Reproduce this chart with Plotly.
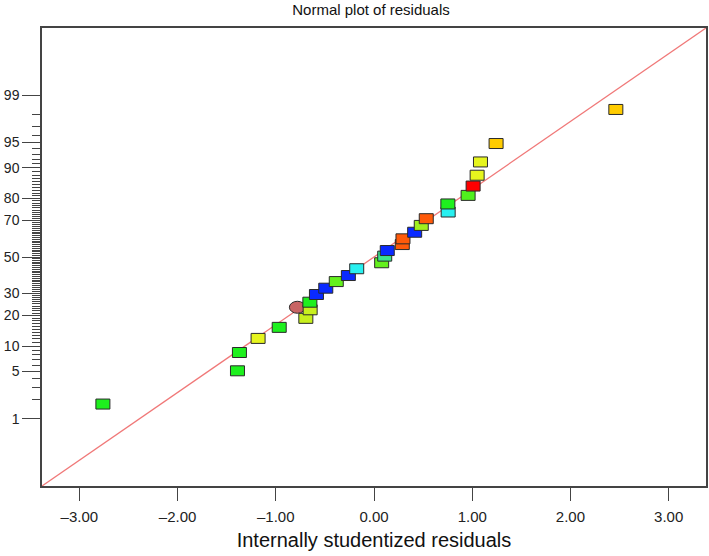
import plotly.graph_objects as go
from statistics import NormalDist

# ---- data ----
resid_x = [-2.76, -1.39, -1.37, -1.18, -0.965, -0.78, -0.694, -0.65, -0.653, -0.586,
           -0.491, -0.384, -0.261, -0.176, 0.078, 0.109, 0.135, 0.288, 0.295, 0.414,
           0.481, 0.532, 0.755, 0.752, 0.958, 1.009, 1.050, 1.084, 1.243, 2.462]
prob_pct = [1.73, 5.1, 8.5, 12.1, 15.6, 23.5, 18.9, 22.4, 25.8, 29.5,
            32.7, 36.2, 39.5, 43.3, 46.7, 50.5, 53.7, 57.1, 60.3, 63.9,
            67.5, 70.9, 74.1, 77.7, 81.2, 84.6, 88.0, 91.4, 94.85, 98.3]
point_colors = ["#1EF01E", "#1EF01E", "#1EF01E", "#E6F51E", "#1EF01E", "#C86464", "#C8F01E",
                "#C8F01E", "#1EF01E", "#0A2AFF", "#0A2AFF", "#64F01E", "#0A2AFF", "#28F0F0",
                "#64F01E", "#3CE68C", "#0A2AFF", "#FF5A0A", "#FF5A0A", "#0A2AFF", "#A0F01E",
                "#FF5A0A", "#28F0F0", "#1EF01E", "#50F01E", "#FF0000", "#E6F51E", "#E6F51E",
                "#FFCC00", "#FFCC00"]
point_shape = ["rect"] * 5 + ["circle"] + ["rect"] * 24

major_ticks_pct = [1, 5, 10, 20, 30, 50, 70, 80, 90, 95, 99]
minor_ticks_pct = [p for p in range(1, 100) if p not in major_ticks_pct]
x_ticks = [-3, -2, -1, 0, 1, 2, 3]

ref_line_x = [-3.38, 3.38]
ref_line_pct = [0.05, 99.95]

x_range = [-3.38, 3.38]
y_range_pct = [0.05, 99.95]

nd = NormalDist()
def z(p):
    return nd.inv_cdf(p / 100.0)

fig = go.Figure()
fig.add_trace(go.Scatter(
    x=ref_line_x, y=[z(p) for p in ref_line_pct], mode="lines",
    line=dict(color="#F07878", width=1.3), hoverinfo="skip", showlegend=False))

# invisible hover trace for points
fig.add_trace(go.Scatter(
    x=resid_x, y=[z(p) for p in prob_pct], mode="markers",
    marker=dict(size=12, opacity=0), showlegend=False,
    text=[f"{p}%" for p in prob_pct], hovertemplate="%{x:.2f}, %{text}<extra></extra>"))

shapes = []
order = [5] + [i for i in range(len(resid_x)) if i != 5]
for i in order:
    if point_shape[i] == "circle":
        dx, dy = 8, 6
    else:
        dx, dy = 7, 5
    shapes.append(dict(
        type=point_shape[i], xref="x", yref="y",
        xsizemode="pixel", ysizemode="pixel",
        xanchor=resid_x[i], yanchor=z(prob_pct[i]),
        x0=-dx, x1=dx, y0=-dy, y1=dy,
        fillcolor=point_colors[i],
        line=dict(color="#2a2a2a", width=1), layer="above"))

fig.update_layout(
    width=709, height=556,
    margin=dict(l=41.5, r=2.5, t=28, b=70, autoexpand=False),
    paper_bgcolor="white", plot_bgcolor="white",
    font=dict(family="Liberation Sans, Arial, sans-serif", size=14, color="#222"),
    title=dict(text="Normal plot of residuals", x=0.4955, xref="paper", xanchor="center",
               y=1 - 10 / 556, yref="container", yanchor="middle", pad=dict(t=0, b=0),
               font=dict(size=15, color="#111"), automargin=False),
    shapes=shapes,
    showlegend=False,
)
fig.update_xaxes(
    range=x_range, showgrid=False, zeroline=False, automargin=False,
    showline=True, linecolor="#444", linewidth=1.5, mirror=True,
    tickmode="array", tickvals=x_ticks, ticktext=[f"{v:.2f}".replace("-", "\u2013") for v in x_ticks],
    ticks="outside", ticklen=13, tickwidth=1.2, tickcolor="#444",
    ticklabelstandoff=3,
    tickfont=dict(size=15, color="#222"),
    title=dict(text="Internally studentized residuals", font=dict(size=20, color="#111"), standoff=9),
)
fig.update_yaxes(
    range=[z(p) for p in y_range_pct], showgrid=False, zeroline=False, automargin=False,
    showline=True, linecolor="#444", linewidth=1.5, mirror=True,
    tickmode="array", tickvals=[z(p) for p in major_ticks_pct],
    ticktext=[str(p) for p in major_ticks_pct],
    ticks="outside", ticklen=18, tickwidth=1.2, tickcolor="#444",
    ticklabelstandoff=0,
    tickfont=dict(size=14, color="#222"),
    minor=dict(tickmode="array", tickvals=[z(p) for p in minor_ticks_pct],
               ticks="outside", ticklen=8, tickwidth=1, tickcolor="#444", showgrid=False),
)

# the page body's default 8px margin would shift the 709x556 figure inside the window
fig.write_html("out.html", config={"displayModeBar": False},
               post_script="document.body.style.margin='0';")
